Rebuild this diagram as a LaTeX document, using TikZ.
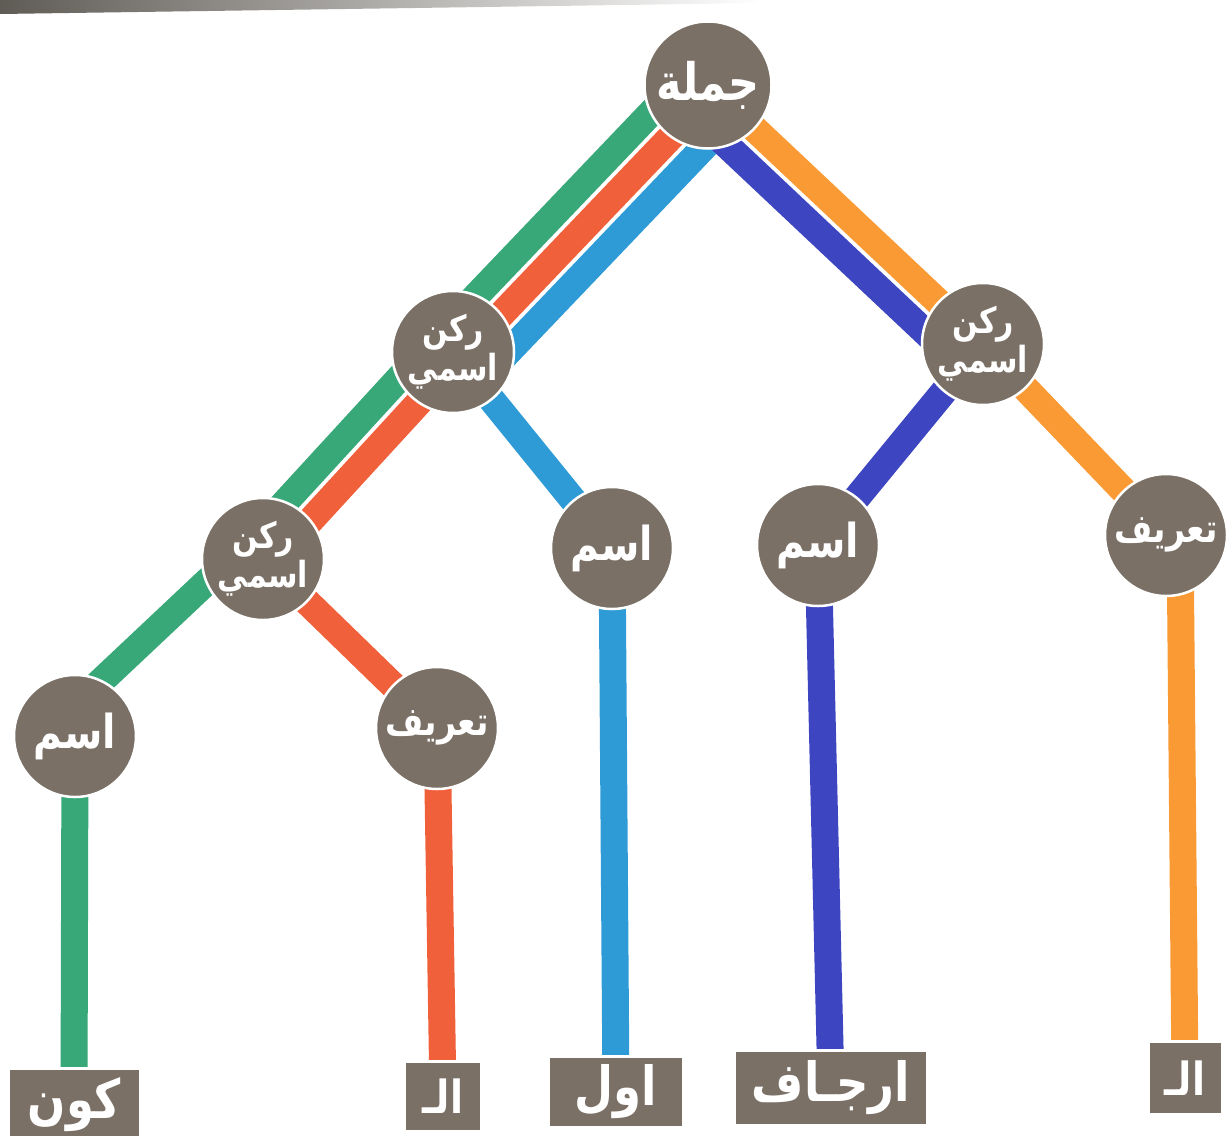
\documentclass[tikz,border=0pt]{standalone}
\usepackage{fontspec}
\usepackage{graphicx}
\newfontfamily\arabicfont[Script=Arabic]{DejaVu Sans}
\TeXXeTstate=1
\usetikzlibrary{calc,backgrounds}

\definecolor{nodegray}{HTML}{7A7066}
\definecolor{cgreen}{HTML}{38A878}
\definecolor{cred}{HTML}{F0603A}
\definecolor{cblue}{HTML}{2E9BD6}
\definecolor{cindigo}{HTML}{3D45C0}
\definecolor{corange}{HTML}{F99A34}
\definecolor{edgegray}{HTML}{5F5B55}

% Arabic word, set right to left and stretched a little upward
\newcommand\ar[1]{\scalebox{1}[1.2]{\beginR#1\endR}}

\tikzset{
  fs/.style={font=\arabicfont\bfseries\fontsize{#1}{#1}\selectfont},
  word/.style={circle, fill=nodegray, draw=white, line width=2.5pt,
    minimum size=122pt, inner sep=0pt, text=white, align=center, fs=30},
  leaf/.style={rectangle, fill=nodegray, draw=white, line width=3pt,
    inner sep=0pt, text=white, fs=45},
  link/.style={line width=27pt, line cap=butt},
}

% a straight bar from #2 to #3, shifted #4 to the right of its direction
\newcommand\offsetbar[4]{%
  \draw[link,#1] ($(#2)!#4!-90:(#3)$) -- ($(#3)!#4!90:(#2)$);%
}

\begin{document}
\begin{tikzpicture}[x=1pt,y=-1pt]
  \useasboundingbox (0,0) rectangle (1226,1135);

  % worn page edge along the top
  \shade[left color=edgegray, right color=white]
    (0,0) -- (760,0) -- (760,3) -- (0,14) -- cycle;

  % tree nodes
  \node[word, minimum size=127pt, fs=43] (R) at (708,85) {\ar{جملة}};
  \node[word] (A) at (453,352) {\ar{ركن}\\[2pt]\ar{اسمي}};
  \node[word] (B) at (983,344) {\ar{ركن}\\[2pt]\ar{اسمي}};
  \node[word] (C) at (263,559) {\ar{ركن}\\[2pt]\ar{اسمي}};
  \node[word, fs=39] (D) at (612,548) {\ar{اسم}};
  \node[word, fs=39] (E) at (818,545) {\ar{اسم}};
  \node[word, fs=33] (F) at (1166,535) {\ar{تعريف}};
  \node[word, fs=39] (G) at (75,736)  {\ar{اسم}};
  \node[word, fs=33] (H) at (437,728) {\ar{تعريف}};

  % words at the leaves
  \node[leaf, minimum width=132pt, minimum height=74pt] (K)  at (74,1105)  {\ar{كون}};
  \node[leaf, minimum width=77pt,  minimum height=70pt, fs=38] (L1) at (443,1096) {\ar{الـ}};
  \node[leaf, minimum width=135pt, minimum height=71pt] (O)  at (616,1092) {\ar{اول}};
  \node[leaf, minimum width=193pt, minimum height=75pt] (J)  at (831,1088) {\ar{ارجـاف}};
  \node[leaf, minimum width=74pt,  minimum height=73pt, fs=38] (L2) at (1185,1078) {\ar{الـ}};

  \begin{pgfonlayer}{background}
    % green path: جملة -> ركن اسمي -> ركن اسمي -> اسم -> كون
    \offsetbar{cgreen}{R}{A}{22pt}
    \offsetbar{cgreen}{A}{C}{22pt}
    \offsetbar{cgreen}{C}{G}{22pt}
    \draw[link,cgreen] (G.center) -- (K.center);
    % red path: ... -> تعريف -> الـ
    \offsetbar{cred}{R}{A}{-9pt}
    \offsetbar{cred}{A}{C}{-9pt}
    \draw[link,cred] (C.center) -- (H.center);
    \draw[link,cred] (H.center) -- (L1.center);
    % light blue path: ... -> اسم -> اول
    \offsetbar{cblue}{R}{A}{-40pt}
    \draw[link,cblue] (A.center) -- (D.center);
    \draw[link,cblue] (D.center) -- (O.center);
    % indigo path: جملة -> ركن اسمي -> اسم -> ارجاف
    \offsetbar{cindigo}{R}{B}{31pt}
    \draw[link,cindigo] (B.center) -- (E.center);
    \draw[link,cindigo] (E.center) -- (J.center);
    % orange path: جملة -> ركن اسمي -> تعريف -> الـ
    \offsetbar{corange}{R}{B}{0pt}
    \draw[link,corange] (B.center) -- (F.center);
    \draw[link,corange] ([xshift=14pt]F.center) -- (L2.center);
  \end{pgfonlayer}
\end{tikzpicture}
\end{document}
